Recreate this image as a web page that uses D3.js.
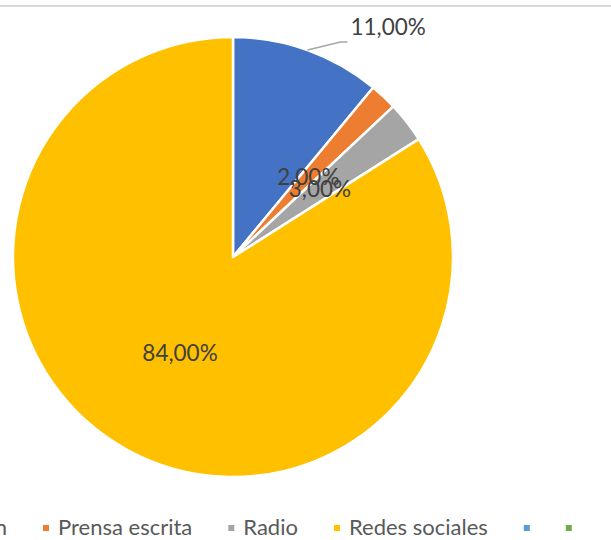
<!DOCTYPE html>
<html>
<head>
<meta charset="utf-8">
<script src="https://cdn.jsdelivr.net/npm/d3@7"></script>
<style>
  html, body { margin: 0; padding: 0; background: #fff; }
  svg { display: block; }
  text { font-family: Lato, "Open Sans", sans-serif; }
</style>
</head>
<body>
<svg id="chart" width="611" height="540"></svg>
<script>
// Medio por el que se informa la población (%)
const categories = ["Televisión", "Prensa escrita", "Radio", "Redes sociales", "", ""];
const values = [11, 2, 3, 84, 0, 0];
const colors = ["#4472C4", "#ED7D31", "#A5A5A5", "#FFC000", "#5B9BD5", "#70AD47"];

const W = 611, H = 540;
const cx = 233, cy = 257, R = 220;

const svg = d3.select("#chart");

// top border of the chart frame
svg.append("rect").attr("x", 0).attr("y", 5).attr("width", W).attr("height", 2).attr("fill", "#d9d9d9");

const data = categories.map((c, i) => ({ name: c, value: values[i], color: colors[i] }));

const pie = d3.pie().sort(null).value(d => d.value);
const arcs = pie(data).filter(a => a.data.value > 0);
const arc = d3.arc().innerRadius(0).outerRadius(R);

const g = svg.append("g").attr("transform", `translate(${cx},${cy})`);

g.selectAll("path.slice")
  .data(arcs)
  .join("path")
  .attr("class", "slice")
  .attr("d", arc)
  .attr("fill", d => d.data.color)
  .attr("stroke", "#fff")
  .attr("stroke-width", 2.5)
  .attr("stroke-linejoin", "round");

const fmt = v => d3.format(".2f")(v).replace(".", ",") + "%";
const labelArc = d3.arc().innerRadius(R * 0.5).outerRadius(R * 0.5);

// small leading slice gets its label outside with a leader line
arcs.forEach((a, i) => {
  const mid = (a.startAngle + a.endAngle) / 2;
  if (i === 0) {
    const p0 = [Math.sin(mid) * R, -Math.cos(mid) * R];
    const p1 = [p0[0] + 33, p0[1] - 8];
    const p2 = [p1[0] + 7, p1[1]];
    g.append("polyline")
      .attr("points", [p0, p1, p2].map(p => p.join(",")).join(" "))
      .attr("fill", "none")
      .attr("stroke", "#a6a6a6")
      .attr("stroke-width", 1.5);
    g.append("text")
      .attr("x", p2[0] + 3)
      .attr("y", p2[1] - 7)
      .attr("font-size", 22.5)
      .attr("fill", "#404040")
      .text(fmt(a.data.value));
  } else {
    const [x, y] = labelArc.centroid(a);
    g.append("text")
      .attr("x", x)
      .attr("y", y)
      .attr("dy", "0.35em")
      .attr("text-anchor", "middle")
      .attr("font-size", 22.5)
      .attr("fill", "#404040")
      .text(fmt(a.data.value));
  }
});

// legend along the bottom edge
const legend = svg.append("g").attr("class", "legend");
const legendY = 535, sw = 6, pad = 9, gap = 36;
const items = legend.selectAll("g.item").data(data).join("g").attr("class", "item");
items.append("rect")
  .attr("width", sw).attr("height", sw)
  .attr("y", legendY - 10)
  .attr("fill", d => d.color);
items.append("text")
  .attr("x", sw + pad)
  .attr("y", legendY)
  .attr("font-size", 22)
  .attr("fill", "#595959")
  .text(d => d.name);

// flow layout, anchored so the second entry's swatch sits at x = 43
const widths = [];
items.each(function () {
  const t = d3.select(this).select("text").node();
  const tw = t.textContent ? t.getComputedTextLength() : 0;
  widths.push(sw + (tw ? pad + tw : 0));
});
let xs = [0];
for (let i = 1; i < widths.length; i++) xs.push(xs[i - 1] + widths[i - 1] + gap);
const shift = 43 - xs[1];
items.attr("transform", (d, i) => `translate(${xs[i] + shift},0)`);
</script>
</body>
</html>
